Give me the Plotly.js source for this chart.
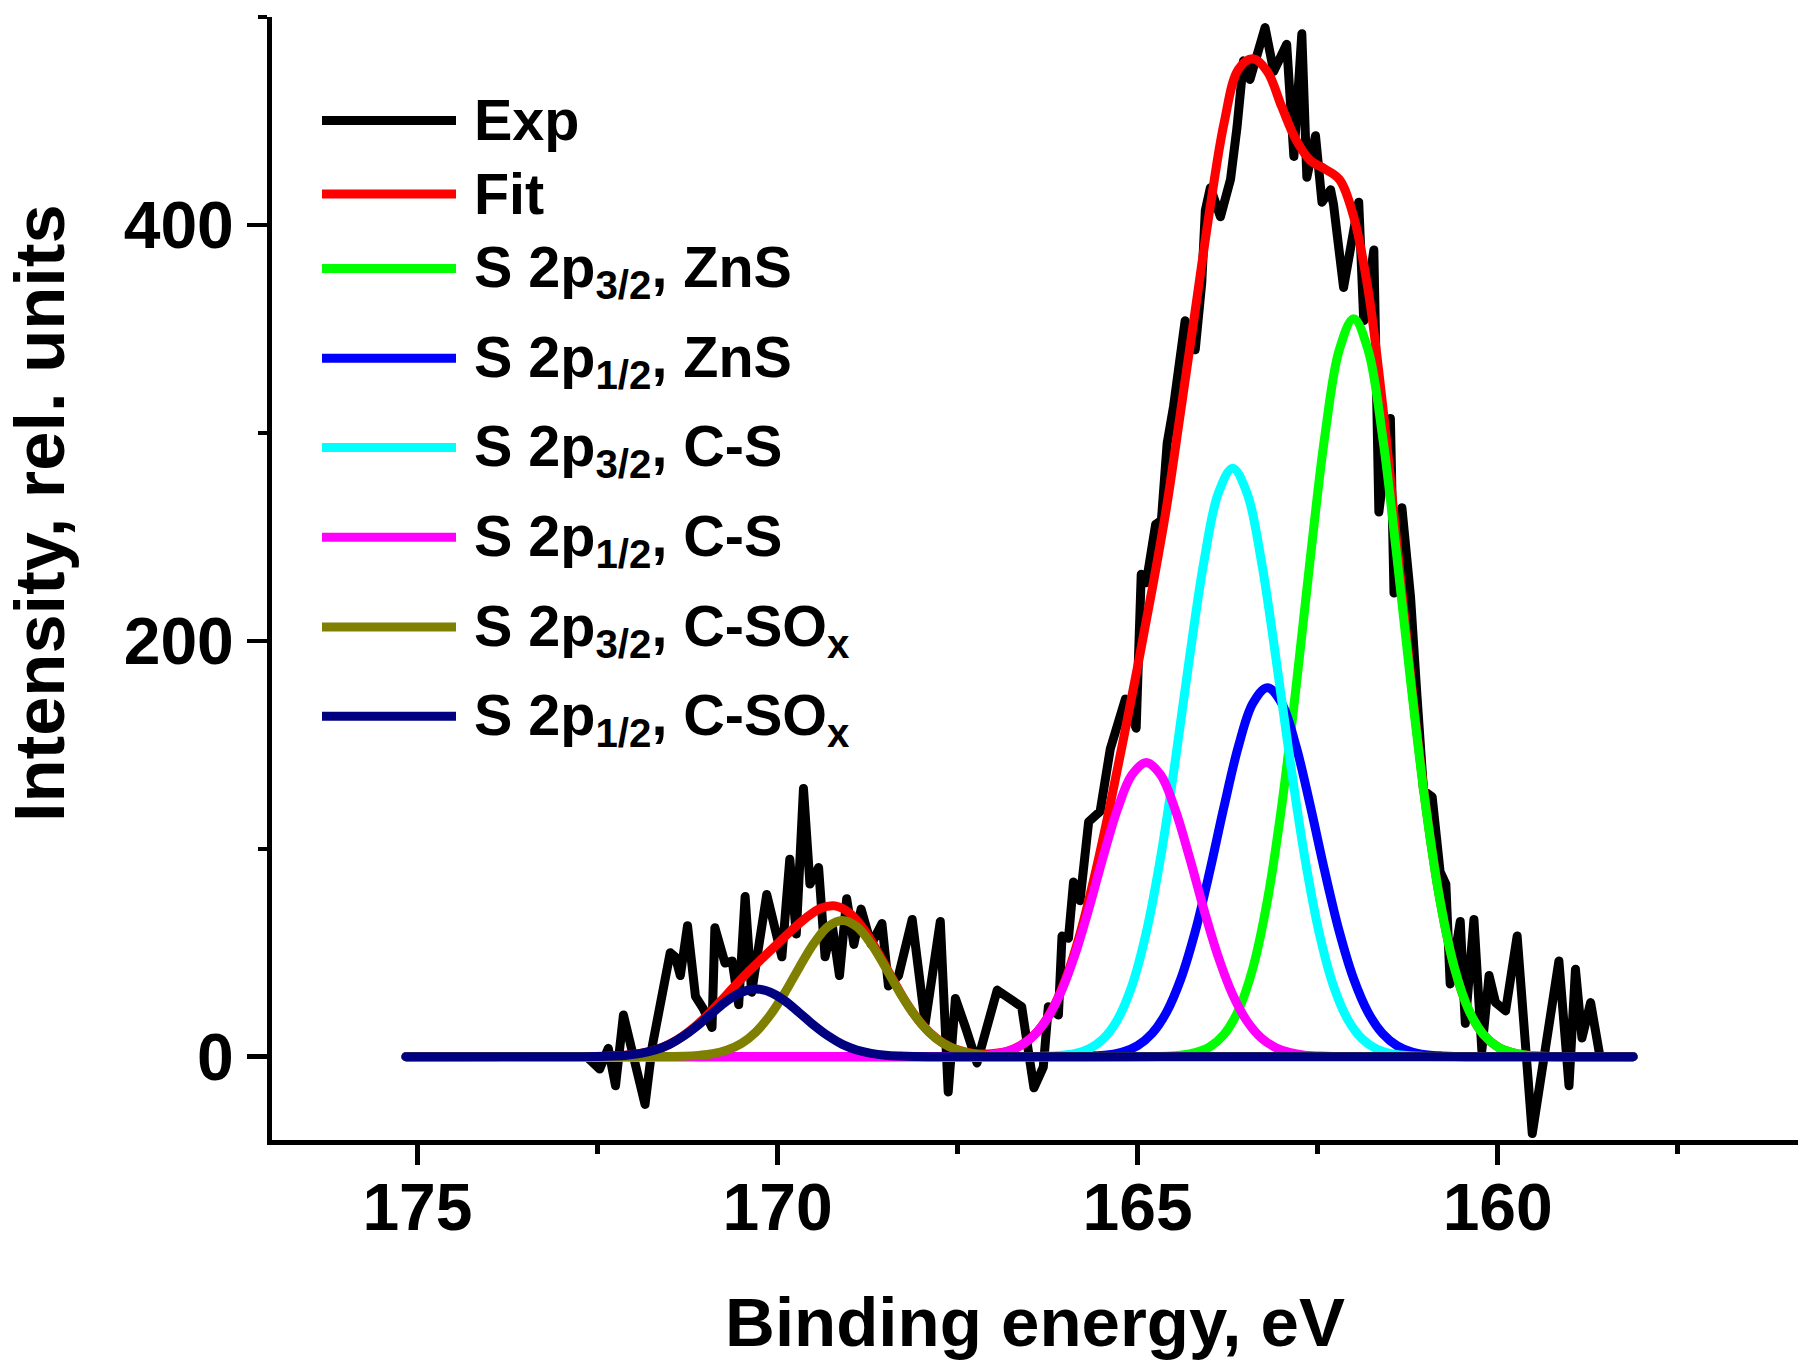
<!DOCTYPE html>
<html>
<head>
<meta charset="utf-8">
<script src="https://cdn.plot.ly/plotly-3.0.1.min.js"></script>
<style>
  html, body { margin: 0; padding: 0; background: #ffffff; }
  #chart { width: 1800px; height: 1370px; }
  .scatterlayer path.js-line { stroke-linejoin: round; stroke-linecap: round; }
</style>
</head>
<body>
<div id="chart"></div>
<script>
// ---------------- data ----------------
const exp_be = [172.65, 172.47, 172.35, 172.25, 172.14, 172.02, 171.84, 171.74, 171.49, 171.42,
  171.35, 171.25, 171.14, 171.03, 170.91, 170.87, 170.73, 170.63, 170.54, 170.45,
  170.36, 170.15, 169.94, 169.83, 169.74, 169.64, 169.55, 169.43, 169.34, 169.24,
  169.14, 169.04, 168.94, 168.84, 168.70, 168.55, 168.46, 168.32, 168.13, 167.95,
  167.74, 167.63, 167.53, 167.39, 167.23, 166.95, 166.81, 166.61, 166.44, 166.31,
  166.24, 166.10, 166.05, 165.96, 165.89, 165.80, 165.68, 165.52, 165.38, 165.17,
  165.02, 164.95, 164.88, 164.75, 164.67, 164.59, 164.50, 164.41, 164.34, 164.20,
  164.11, 164.06, 163.99, 163.85, 163.71, 163.62, 163.53, 163.44, 163.32, 163.23,
  163.11, 162.93, 162.83, 162.72, 162.65, 162.53, 162.44, 162.32, 162.28, 162.14,
  161.93, 161.86, 161.72, 161.65, 161.49, 161.44, 161.33, 161.21, 161.12, 161.03,
  160.91, 160.80, 160.72, 160.66, 160.52, 160.45, 160.33, 160.22, 160.12, 160.03,
  159.89, 159.73, 159.52, 159.15, 159.01, 158.92, 158.83, 158.71, 158.58];
const exp_int = [0, -6, 4, -14, 20, 3, -23, 5, 50, 48,
  39, 63, 29, 23, 14, 62, 45, 46, 25, 77,
  31, 78, 48, 95, 59, 129, 83, 91, 48, 63,
  39, 76, 54, 71, 54, 64, 34, 39, 66, 16,
  65, -17, 28, 14, -3, 32, 29, 24, -15, -5,
  24, 20, 58, 57, 84, 75, 113, 118, 148, 172,
  158, 232, 228, 256, 258, 295, 313, 338, 354, 340,
  372, 407, 418, 404, 422, 447, 479, 470, 486, 495,
  474, 487, 433, 492, 423, 443, 411, 417, 410, 370,
  411, 354, 388, 262, 307, 223, 264, 221, 173, 128,
  125, 89, 83, 35, 65, 16, 66, 3, 39, 26,
  22, 58, -37, 46, -14, 42, 9, 26, 0];

const fit_be = [175.16, 173.0, 172.8, 172.6, 172.4, 172.2, 172.0, 171.8, 171.6, 171.4,
  171.2, 171.0, 170.8, 170.6, 170.4, 170.2, 170.0, 169.8, 169.6, 169.4,
  169.2, 169.0, 168.8, 168.6, 168.4, 168.2, 168.0, 167.8, 167.6, 167.4,
  167.2, 167.0, 166.8, 166.6, 166.4, 166.2, 166.0, 165.8, 165.6, 165.4,
  165.2, 165.0, 164.8, 164.6, 164.4, 164.2, 164.0, 163.8, 163.6, 163.4,
  163.2, 163.0, 162.8, 162.6, 162.4, 162.2, 162.0, 161.8, 161.6, 161.4,
  161.2, 161.0, 160.8, 160.6, 160.4, 160.2, 160.0, 159.8, 159.6, 159.4, 158.12];
const fit_int = [0, 0.0, 0.0, 0.1, 0.2, 0.5, 1.1, 2.3, 4.4, 7.9,
  12.9, 19.1, 26.3, 33.8, 41.0, 47.7, 54.3, 60.9, 66.9, 71.4,
  72.5, 69.1, 61.2, 49.8, 37.2, 25.3, 15.7, 8.9, 4.6, 2.3,
  1.3, 1.5, 2.7, 5.9, 11.7, 21.8, 37.3, 59.0, 86.5, 118.0,
  152.3, 187.6, 224.5, 264, 311, 359, 407, 449, 475, 480,
  474, 457, 441, 431, 427, 422, 404, 369, 314, 247,
  180.3, 121.3, 75.2, 42.7, 22.3, 10.7, 4.7, 1.9, 0.7, 0.2, 0];

const zns32_be = [175.16, 164.6, 164.4, 164.2, 164.0, 163.8, 163.6, 163.4, 163.2, 163.0,
  162.8, 162.6, 162.4, 162.2, 162.0, 161.8, 161.6, 161.4, 161.2, 161.0,
  160.8, 160.6, 160.4, 160.2, 160.0, 159.8, 159.6, 159.4, 158.12];
const zns32_int = [0, 0.2, 0.7, 1.9, 4.7, 10.7, 22.3, 42.6, 74.8, 120.4,
  177.7, 240.5, 298.6, 340.0, 355, 340.0, 298.6, 240.5, 177.7, 120.4,
  74.8, 42.6, 22.3, 10.7, 4.7, 1.9, 0.7, 0.2, 0];

const zns12_be = [175.16, 165.8, 165.6, 165.4, 165.2, 165.0, 164.8, 164.6, 164.4, 164.2,
  164.0, 163.8, 163.6, 163.4, 163.2, 163.0, 162.8, 162.6, 162.4, 162.2,
  162.0, 161.8, 161.6, 161.4, 161.2, 161.0, 160.8, 160.6, 158.12];
const zns12_int = [0, 0.1, 0.4, 0.9, 2.3, 5.3, 11.1, 21.3, 37.4, 60.2,
  88.9, 120.3, 149.3, 170.0, 177.5, 170.0, 149.3, 120.3, 88.9, 60.2,
  37.4, 21.3, 11.1, 5.3, 2.3, 0.9, 0.4, 0.1, 0];

const cs32_be = [175.16, 166.28, 166.08, 165.88, 165.68, 165.48, 165.28, 165.08, 164.88, 164.68,
  164.48, 164.28, 164.08, 163.88, 163.68, 163.48, 163.28, 163.08, 162.88, 162.68,
  162.48, 162.28, 162.08, 161.88, 161.68, 161.48, 161.28, 161.08, 158.12];
const cs32_int = [0, 0.2, 0.6, 1.5, 3.7, 8.5, 17.8, 34.0, 59.7, 96.0,
  141.7, 191.8, 238.0, 271.0, 283, 271.0, 238.0, 191.8, 141.7, 96.0,
  59.7, 34.0, 17.8, 8.5, 3.7, 1.5, 0.6, 0.2, 0];

const cs12_be = [175.16, 167.48, 167.28, 167.08, 166.88, 166.68, 166.48, 166.28, 166.08, 165.88,
  165.68, 165.48, 165.28, 165.08, 164.88, 164.68, 164.48, 164.28, 164.08, 163.88,
  163.68, 163.48, 163.28, 163.08, 162.88, 162.68, 162.48, 162.28, 158.12];
const cs12_int = [0, 0.1, 0.3, 0.7, 1.9, 4.3, 8.9, 17.0, 29.8, 48.0,
  70.8, 95.9, 119.0, 135.5, 141.5, 135.5, 119.0, 95.9, 70.8, 48.0,
  29.8, 17.0, 8.9, 4.3, 1.9, 0.7, 0.3, 0.1, 0];

const csox32_be = [175.16, 171.5, 171.3, 171.1, 170.9, 170.7, 170.5, 170.3, 170.1, 169.9,
  169.7, 169.5, 169.3, 169.1, 168.9, 168.7, 168.5, 168.3, 168.1, 167.9,
  167.7, 167.5, 167.3, 167.1, 166.9, 166.7, 158.12];
const csox32_int = [0, 0.1, 0.2, 0.6, 1.4, 3.2, 6.4, 11.9, 20.1, 30.7,
  42.8, 54.2, 62.5, 65.5, 62.5, 54.2, 42.8, 30.7, 20.1, 11.9,
  6.4, 3.2, 1.4, 0.6, 0.2, 0.1, 0];

const csox12_be = [175.16, 172.7, 172.5, 172.3, 172.1, 171.9, 171.7, 171.5, 171.3, 171.1,
  170.9, 170.7, 170.5, 170.3, 170.1, 169.9, 169.7, 169.5, 169.3, 169.1,
  168.9, 168.7, 168.5, 168.3, 168.1, 167.9, 158.12];
const csox12_int = [0, 0.0, 0.1, 0.3, 0.7, 1.6, 3.2, 5.9, 10.0, 15.2,
  21.2, 26.9, 31.0, 32.5, 31.0, 26.9, 21.2, 15.2, 10.0, 5.9,
  3.2, 1.6, 0.7, 0.3, 0.1, 0.0, 0];

const seriesNames = ['Exp', 'Fit', 'S 2p<sub>3/2</sub>, ZnS', 'S 2p<sub>1/2</sub>, ZnS',
  'S 2p<sub>3/2</sub>, C-S', 'S 2p<sub>1/2</sub>, C-S',
  'S 2p<sub>3/2</sub>, C-SO<sub>x</sub>', 'S 2p<sub>1/2</sub>, C-SO<sub>x</sub>'];
const seriesColors = ['#000000', '#ff0000', '#00ff00', '#0000ff', '#00ffff', '#ff00ff', '#808000', '#000080'];

const xTitle = 'Binding energy, eV';
const yTitle = 'Intensity, rel. units';

// ---------------- layout constants ----------------
const W = 1800, H = 1370;
const L = 272, R = 2, T = 17, B = 230;
const plotW = W - L - R, plotH = H - T - B;
const FONT = 'Liberation Sans, Arial, Helvetica, sans-serif';
const LW = 9;

const xs = [exp_be, fit_be, zns32_be, zns12_be, cs32_be, cs12_be, csox32_be, csox12_be];
const ys = [exp_int, fit_int, zns32_int, zns12_int, cs32_int, cs12_int, csox32_int, csox12_int];

const traces = xs.map((x, i) => ({
  type: 'scatter', mode: 'lines', x: x, y: ys[i],
  name: seriesNames[i],
  line: { color: seriesColors[i], width: LW, shape: i === 0 ? 'linear' : 'spline' },
  hoverinfo: 'skip', showlegend: false
}));

// manual legend (long line samples like the original)
const legRowY = [120.4, 193.9, 268.4, 358.2, 447.4, 537.2, 627.0, 716.3];
const legX0 = 322, legX1 = 456, legTextX = 472;
const px2px = X => (X - L) / plotW;
const py2py = Y => (H - B - Y) / plotH;

const shapes = seriesNames.map((n, i) => ({
  type: 'line', xref: 'paper', yref: 'paper',
  x0: px2px(legX0), x1: px2px(legX1), y0: py2py(legRowY[i]), y1: py2py(legRowY[i]),
  line: { color: seriesColors[i], width: 9 }
}));

const annotations = seriesNames.map((n, i) => ({
  xref: 'paper', yref: 'paper', x: px2px(legTextX),
  y: py2py(legRowY[i] + (n.indexOf('<sub>') >= 0 ? 3 : 0)),
  xanchor: 'left', yanchor: 'middle', showarrow: false, text: n,
  font: { family: FONT, size: 57.5, color: '#000000', weight: 'bold' }
}));

annotations.push({
  xref: 'paper', yref: 'paper', x: px2px(39), y: py2py(513),
  xanchor: 'center', yanchor: 'middle', showarrow: false, textangle: -90,
  text: yTitle, font: { family: FONT, size: 70.5, color: '#000000', weight: 'bold' }
});

const layout = {
  width: W, height: H,
  margin: { l: L, r: R, t: T, b: B, pad: 0 },
  paper_bgcolor: '#ffffff', plot_bgcolor: '#ffffff',
  showlegend: false,
  xaxis: {
    range: [177.02, 155.83], autorange: false,
    showgrid: false, zeroline: false,
    showline: true, linewidth: 5, linecolor: '#000000', mirror: false,
    ticks: 'outside', ticklen: 20, tickwidth: 4.5, tickcolor: '#000000',
    tick0: 0, dtick: 5, ticklabelstandoff: -14,
    minor: { ticks: 'outside', ticklen: 9, tickwidth: 4.5, tickcolor: '#000000', dtick: 2.5, showgrid: false },
    tickfont: { family: FONT, size: 66, color: '#000000', weight: 'bold' },
    title: { text: xTitle, font: { family: FONT, size: 69, color: '#000000', weight: 'bold' }, standoff: 56 }
  },
  yaxis: {
    range: [-40.1, 500.1], autorange: false,
    showgrid: false, zeroline: false,
    showline: true, linewidth: 5, linecolor: '#000000', mirror: false,
    ticks: 'outside', ticklen: 20, tickwidth: 4.5, tickcolor: '#000000',
    tick0: 0, dtick: 200,
    minor: { ticks: 'outside', ticklen: 9, tickwidth: 4.5, tickcolor: '#000000', dtick: 100, showgrid: false },
    tickfont: { family: FONT, size: 66, color: '#000000', weight: 'bold' }
  },
  shapes: shapes,
  annotations: annotations
};

Plotly.newPlot('chart', traces, layout, { displayModeBar: false, staticPlot: true });
</script>
</body>
</html>
